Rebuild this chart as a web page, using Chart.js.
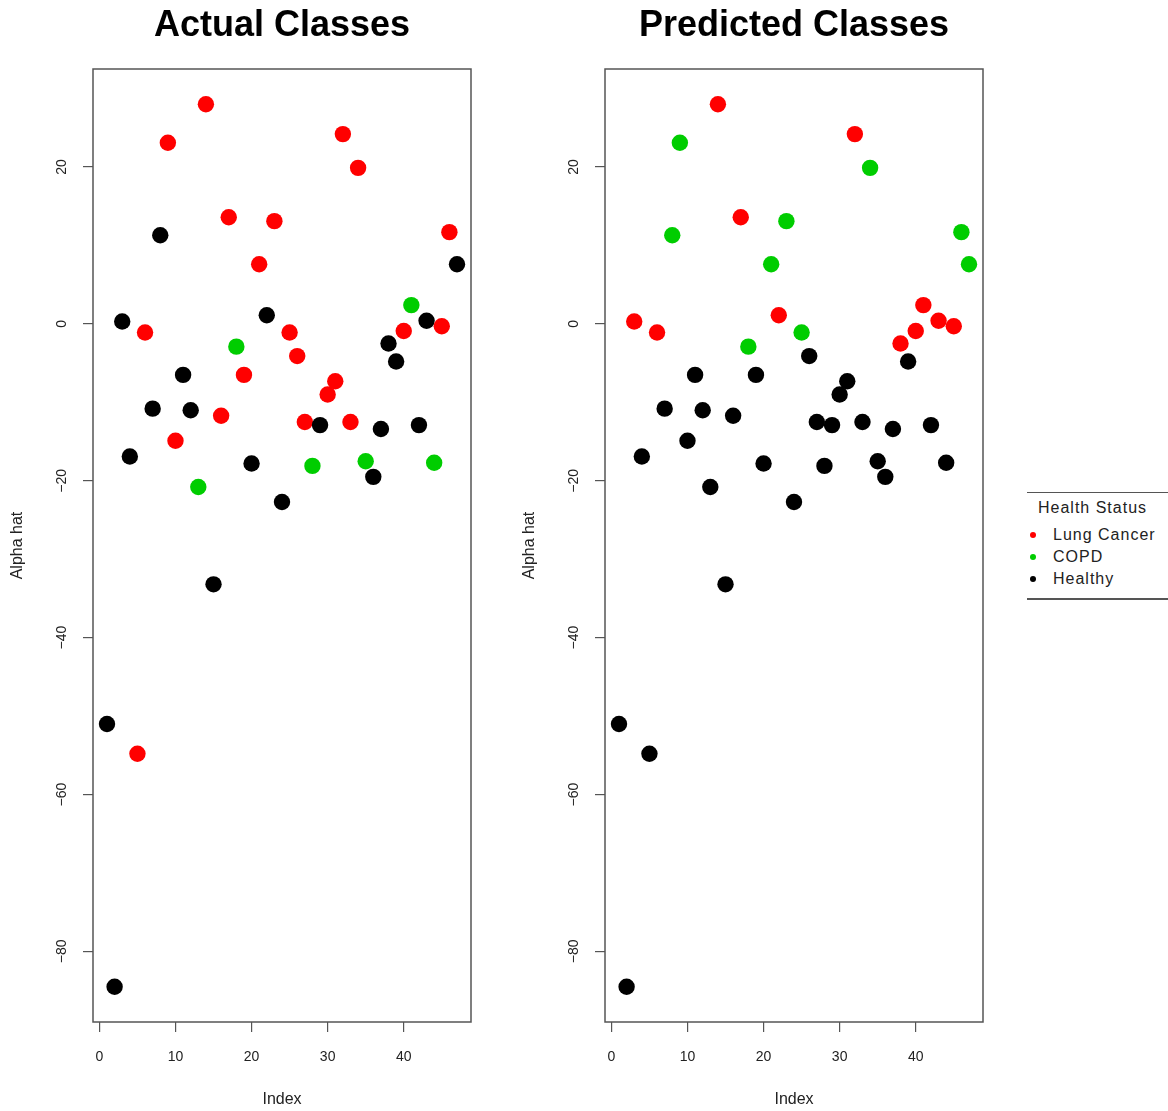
<!DOCTYPE html>
<html>
<head>
<meta charset="utf-8">
<title>Actual vs Predicted Classes</title>
<script src="https://cdn.jsdelivr.net/npm/chart.js@4.4.1/dist/chart.umd.min.js"></script>
<style>
  html, body {
    margin: 0; padding: 0; background: #fff;
    width: 1168px; height: 1111px; overflow: hidden; position: relative;
    font-family: "Liberation Sans", Arial, Helvetica, sans-serif;
  }
  canvas { position: absolute; top: 0; }
  #actual { left: 0; }
  #predicted { left: 512px; }
  #legend {
    position: absolute; left: 1027px; top: 492px; width: 170px;
    border-top: 1.5px solid #555; border-bottom: 2.5px solid #555;
    padding: 5px 0 8px 0; color: #222; font-size: 16px; letter-spacing: 1px;
  }
  #legend .title { line-height: 20px; padding-left: 11px; margin-bottom: 6px; }
  #legend .item { line-height: 22px; height: 22px; position: relative; padding-left: 26px; }
  #legend .dot {
    position: absolute; left: 3px; top: 8px; width: 6px; height: 6px; border-radius: 50%;
  }
</style>
</head>
<body>
<canvas id="actual" width="490" height="1111"></canvas>
<canvas id="predicted" width="490" height="1111"></canvas>
<div id="legend"></div>
<script>
// Sample index (x) and estimated alpha for each sample (y)
const sampleIndex = [1, 2, 3, 4, 5, 6, 7, 8, 9, 10, 11, 12, 13, 14, 15, 16, 17, 18, 19, 20,
  21, 22, 23, 24, 25, 26, 27, 28, 29, 30, 31, 32, 33, 34, 35, 36, 37, 38, 39, 40,
  41, 42, 43, 44, 45, 46, 47];

const alphaHat = [-51.0, -84.5, 0.3, -16.9, -54.8, -1.1, -10.8, 11.3, 23.1, -14.9,
  -6.5, -11.0, -20.8, 28.0, -33.2, -11.7, 13.6, -2.9, -6.5, -17.8,
  7.6, 1.1, 13.1, -22.7, -1.1, -4.1, -12.5, -18.1, -12.9, -9.0,
  -7.3, 24.2, -12.5, 19.9, -17.5, -19.5, -13.4, -2.5, -4.8, -0.9,
  2.4, -12.9, 0.4, -17.7, -0.3, 11.7, 7.6];

// Health status of each sample
const actualClass = ['Healthy', 'Healthy', 'Healthy', 'Healthy', 'Lung Cancer', 'Lung Cancer', 'Healthy', 'Healthy', 'Lung Cancer', 'Lung Cancer',
  'Healthy', 'Healthy', 'COPD', 'Lung Cancer', 'Healthy', 'Lung Cancer', 'Lung Cancer', 'COPD', 'Lung Cancer', 'Healthy',
  'Lung Cancer', 'Healthy', 'Lung Cancer', 'Healthy', 'Lung Cancer', 'Lung Cancer', 'Lung Cancer', 'COPD', 'Healthy', 'Lung Cancer',
  'Lung Cancer', 'Lung Cancer', 'Lung Cancer', 'Lung Cancer', 'COPD', 'Healthy', 'Healthy', 'Healthy', 'Healthy', 'Lung Cancer',
  'COPD', 'Healthy', 'Healthy', 'COPD', 'Lung Cancer', 'Lung Cancer', 'Healthy'];

const predictedClass = ['Healthy', 'Healthy', 'Lung Cancer', 'Healthy', 'Healthy', 'Lung Cancer', 'Healthy', 'COPD', 'COPD', 'Healthy',
  'Healthy', 'Healthy', 'Healthy', 'Lung Cancer', 'Healthy', 'Healthy', 'Lung Cancer', 'COPD', 'Healthy', 'Healthy',
  'COPD', 'Lung Cancer', 'COPD', 'Healthy', 'COPD', 'Healthy', 'Healthy', 'Healthy', 'Healthy', 'Healthy',
  'Healthy', 'Lung Cancer', 'Healthy', 'COPD', 'Healthy', 'Healthy', 'Healthy', 'Lung Cancer', 'Healthy', 'Lung Cancer',
  'Lung Cancer', 'Healthy', 'Lung Cancer', 'Healthy', 'Lung Cancer', 'COPD', 'COPD'];

const classNames = ['Lung Cancer', 'COPD', 'Healthy'];
const xTicks = [0, 10, 20, 30, 40];
const yTicks = [-80, -60, -40, -20, 0, 20];

// Styling
const classColor = { 'Lung Cancer': '#ff0000', 'COPD': '#00cd00', 'Healthy': '#000000' };
const FONT = '"Liberation Sans", Arial, Helvetica, sans-serif';
const INK = '#222';
const AXIS_COLOR = '#555';

// Axis limits extended by 4% on each side of the data range
function paddedRange(values) {
  const lo = Math.min(...values), hi = Math.max(...values);
  const d = (hi - lo) * 0.04;
  return [lo - d, hi + d];
}

// Full box around the plotting region
const frame = {
  id: 'frame',
  afterDraw(chart) {
    const { ctx, chartArea: a } = chart;
    ctx.save();
    ctx.strokeStyle = AXIS_COLOR;
    ctx.lineWidth = 1.5;
    ctx.strokeRect(a.left, a.top, a.right - a.left, a.bottom - a.top);
    ctx.restore();
  }
};

const minus = v => String(v).replace('-', '\u2212');

function makePanel(canvasId, titleText, classes) {
  const [xMin, xMax] = paddedRange(sampleIndex);
  const [yMin, yMax] = paddedRange(alphaHat);
  return new Chart(document.getElementById(canvasId), {
    type: 'scatter',
    data: {
      datasets: [{
        label: titleText,
        data: sampleIndex.map((x, i) => ({ x: x, y: alphaHat[i] })),
        backgroundColor: classes.map(c => classColor[c]),
        borderWidth: 0,
        pointRadius: 8.2,
        pointHoverRadius: 8.2
      }]
    },
    options: {
      responsive: false,
      animation: false,
      devicePixelRatio: 1,
      events: [],
      layout: { padding: { left: 0, top: 0, right: 19, bottom: 0 } },
      plugins: {
        legend: { display: false },
        tooltip: { enabled: false },
        title: {
          display: true,
          text: titleText,
          fullSize: false,
          color: '#000',
          font: { family: FONT, size: 36, weight: 'bold', lineHeight: 1.2 },
          padding: { top: 4.5, bottom: 21.3 }
        }
      },
      scales: {
        x: {
          type: 'linear',
          min: xMin, max: xMax,
          afterFit(scale) { scale.height = 89; },
          afterBuildTicks(scale) { scale.ticks = xTicks.map(v => ({ value: v })); },
          grid: { display: true, drawOnChartArea: false, drawTicks: true, tickLength: 10, color: AXIS_COLOR, lineWidth: 1.2 },
          border: { display: false },
          ticks: { color: INK, font: { family: FONT, size: 14 }, padding: 17, maxRotation: 0, autoSkip: false, callback: minus },
          title: { display: true, text: 'Index', color: INK, font: { family: FONT, size: 16 }, padding: { top: 0, bottom: 2 } }
        },
        y: {
          type: 'linear',
          min: yMin, max: yMax,
          afterFit(scale) { scale.width = 93; },
          afterBuildTicks(scale) { scale.ticks = yTicks.map(v => ({ value: v })); },
          grid: { display: true, drawOnChartArea: false, drawTicks: true, tickLength: 10, color: AXIS_COLOR, lineWidth: 1.2 },
          border: { display: false },
          ticks: { color: INK, font: { family: FONT, size: 14 }, padding: 9, minRotation: 90, maxRotation: 90, crossAlign: 'center', autoSkip: false, callback: minus },
          title: { display: true, text: 'Alpha hat', color: INK, font: { family: FONT, size: 16 }, padding: { top: 8, bottom: 0 } }
        }
      }
    },
    plugins: [frame]
  });
}

makePanel('actual', 'Actual Classes', actualClass);
makePanel('predicted', 'Predicted Classes', predictedClass);

// Legend for the class colours
const legend = document.getElementById('legend');
const head = document.createElement('div');
head.className = 'title';
head.textContent = 'Health Status';
legend.appendChild(head);
classNames.forEach(name => {
  const row = document.createElement('div');
  row.className = 'item';
  const dot = document.createElement('span');
  dot.className = 'dot';
  dot.style.background = classColor[name];
  row.appendChild(dot);
  row.appendChild(document.createTextNode(name));
  legend.appendChild(row);
});
</script>
</body>
</html>
